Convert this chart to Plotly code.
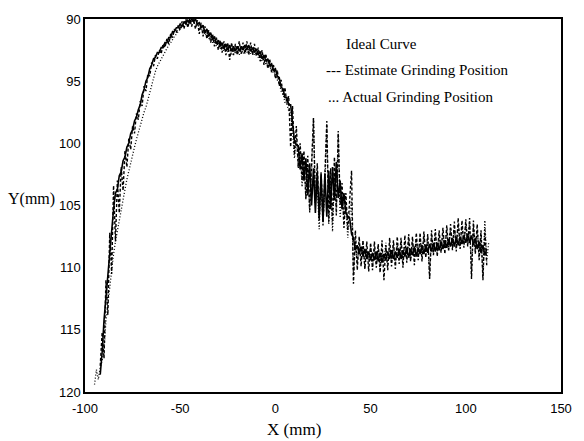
import plotly.graph_objects as go

# X sampling positions (mm)
X_MM = [
    -95, -94, -93, -92, -91, -90, -89, -88, -87, -86,
    -85, -84, -83, -82, -81, -80, -79, -78, -77, -76,
    -75, -74, -73, -72, -71, -70, -69, -68, -67, -66,
    -65, -64, -63, -62, -61, -60, -59, -58, -57, -56,
    -55, -54, -53, -52, -51, -50, -49, -48, -47, -46,
    -45, -44, -43, -42, -41, -40, -39, -38, -37, -36,
    -35, -34, -33, -32, -31, -30, -29, -28, -27, -26,
    -25, -24, -23, -22, -21, -20, -19, -18, -17, -16,
    -15, -14, -13, -12, -11, -10, -9, -8, -7, -6,
    -5, -4, -3, -2, -1, 0, 1, 2, 3, 4,
    5, 6, 7, 8, 9, 10, 11, 12, 13, 14,
    15, 16, 17, 18, 19, 20, 21, 22, 23, 24,
    25, 26, 27, 28, 29, 30, 31, 32, 33, 34,
    35, 36, 37, 38, 39, 40, 41, 42, 43, 44,
    45, 46, 47, 48, 49, 50, 51, 52, 53, 54,
    55, 56, 57, 58, 59, 60, 61, 62, 63, 64,
    65, 66, 67, 68, 69, 70, 71, 72, 73, 74,
    75, 76, 77, 78, 79, 80, 81, 82, 83, 84,
    85, 86, 87, 88, 89, 90, 91, 92, 93, 94,
    95, 96, 97, 98, 99, 100, 101, 102, 103, 104,
    105, 106, 107, 108, 109, 110, 111, 112,
]

# Ideal curve (x = -92 .. 111)
IDEAL_Y = [None, None, None] + [
    118.6, 116.8, 114.2, 112.4, 110.1, 108.6, 106.4, 105.3, 104.0, 103.7,
    102.6, 102.3, 101.4, 101.1, 100.3, 100.0, 99.2, 98.9, 98.2, 97.9,
    97.3, 96.9, 96.1, 95.7, 95.0, 94.7, 94.0, 93.7, 93.2, 93.1,
    92.7, 92.7, 92.3, 92.3, 91.9, 91.9, 91.5, 91.5, 91.0, 91.0,
    90.7, 90.7, 90.4, 90.6, 90.2, 90.4, 90.1, 90.3, 90.0, 90.2,
    90.0, 90.4, 90.3, 90.7, 90.5, 91.1, 90.8, 91.4, 91.1, 91.7,
    91.4, 92.0, 91.7, 92.2, 91.9, 92.4, 92.0, 92.5, 92.1, 92.6,
    92.2, 92.6, 92.2, 92.6, 92.2, 92.5, 92.1, 92.5, 92.1, 92.6,
    92.3, 92.7, 92.4, 92.9, 92.6, 93.2, 92.9, 93.4, 93.2, 93.7,
    93.6, 94.1, 94.0, 94.6, 94.7, 95.5, 95.6, 96.3, 96.3, 96.9,
    96.9, 98.4, 99.8, 100.1, 100.2, 102.1, 100.8, 103.0, 101.2, 104.2,
    101.6, 105.0, 102.0, 105.6, 102.3, 106.0, 102.5, 106.3, 102.4, 105.9,
    102.2, 105.3, 101.9, 104.6, 101.5, 104.4, 103.0, 105.3, 104.0, 105.6,
    105.9, 106.0, 107.3, 107.6, 108.6, 108.2, 108.9, 108.3, 109.1, 108.5,
    109.3, 108.7, 109.4, 108.8, 109.4, 108.7, 109.5, 108.8, 109.6, 108.9,
    109.4, 108.7, 109.3, 108.6, 109.3, 108.7, 109.2, 108.5, 109.3, 108.6,
    109.1, 108.4, 109.2, 108.5, 109.0, 108.3, 109.1, 108.4, 108.9, 108.2,
    108.9, 108.2, 108.8, 108.1, 108.7, 108.0, 108.7, 108.0, 108.6, 107.9,
    108.5, 107.8, 108.4, 107.7, 108.3, 107.6, 108.3, 107.5, 108.2, 107.5,
    108.1, 107.4, 108.0, 107.3, 108.0, 107.4, 108.2, 107.6, 108.5, 107.9,
    108.8, 108.2, 109.0, 108.5,
] + [None]

# Estimate grinding position (x = -92 .. 111)
ESTIMATE_Y = [None, None, None] + [
    117.9, 115.2, 117.3, 111.0, 113.8, 107.2, 110.5, 103.4, 107.9, 103.0,
    105.6, 101.9, 103.8, 100.6, 101.9, 99.6, 100.5, 98.6, 99.2, 97.6,
    98.1, 96.6, 97.0, 95.4, 95.8, 94.4, 94.6, 93.5, 93.8, 92.9,
    93.2, 92.5, 92.8, 92.0, 92.3, 91.6, 92.0, 91.2, 91.5, 90.8,
    91.1, 90.5, 90.9, 90.2, 90.8, 90.0, 90.7, 90.0, 90.6, 90.0,
    90.8, 90.1, 91.2, 90.3, 91.4, 90.6, 91.6, 90.9, 91.9, 91.2,
    92.2, 91.5, 92.5, 91.7, 92.7, 91.8, 92.9, 91.9, 93.3, 91.9,
    92.9, 92.0, 92.9, 91.8, 92.8, 91.9, 92.8, 91.8, 92.9, 91.9,
    92.9, 92.0, 93.0, 92.3, 93.4, 92.5, 93.7, 92.8, 94.0, 93.2,
    94.3, 93.7, 94.8, 94.1, 95.4, 94.9, 96.1, 95.5, 96.8, 96.2,
    100.3, 97.0, 100.9, 98.6, 101.9, 100.0, 103.0, 100.6, 104.5, 101.0,
    105.4, 101.2, 98.0, 104.8, 101.6, 106.2, 102.3, 106.6, 101.9, 98.2,
    106.3, 102.0, 106.5, 101.1, 105.8, 99.0, 104.9, 103.2, 106.8, 104.0,
    107.0, 104.6, 102.2, 111.3, 107.0, 110.2, 107.5, 109.9, 107.8, 110.1,
    107.9, 110.3, 108.0, 110.2, 107.9, 110.0, 108.1, 110.4, 107.8, 111.0,
    108.2, 110.2, 107.6, 109.9, 107.8, 110.1, 107.5, 109.7, 107.6, 110.0,
    107.4, 109.6, 107.3, 109.5, 107.5, 109.8, 107.2, 109.4, 107.2, 109.5,
    107.1, 109.2, 107.3, 110.9, 107.0, 109.0, 106.9, 109.1, 107.0, 108.8,
    106.8, 108.9, 106.6, 108.7, 106.5, 108.6, 106.3, 108.7, 106.0, 108.5,
    106.2, 108.4, 106.1, 108.3, 106.0, 110.9, 106.2, 108.9, 106.5, 109.4,
    107.0, 111.0, 106.9, 109.8,
] + [None]

# Actual grinding position (x = -95 .. 112)
ACTUAL_Y = [
    119.4, 118.2, 119.0, 118.0, 117.5, 116.6, 114.3, 112.9, 111.4, 110.1,
    108.9, 107.9, 107.0, 106.1, 105.3, 104.4, 103.7, 102.9, 102.2, 101.5,
    100.9, 100.3, 99.7, 99.1, 98.5, 98.0, 97.5, 97.1, 96.5, 95.8,
    95.2, 94.7, 94.2, 93.8, 93.5, 93.2, 92.9, 92.7, 92.4, 92.1,
    91.9, 91.6, 91.4, 91.2, 91.0, 90.8, 90.6, 90.5, 90.4, 90.3,
    90.3, 90.2, 90.3, 90.3, 90.5, 90.6, 90.9, 90.8, 91.3, 91.1,
    91.6, 91.4, 91.9, 91.7, 92.2, 91.9, 92.4, 92.1, 92.6, 92.2,
    92.7, 92.3, 92.9, 92.4, 92.8, 92.5, 92.9, 92.4, 92.8, 92.4,
    92.7, 92.4, 92.8, 92.5, 92.9, 92.7, 93.1, 92.9, 93.4, 93.2,
    93.7, 93.5, 94.0, 93.9, 94.4, 94.3, 94.9, 95.1, 95.8, 96.0,
    96.7, 96.8, 97.4, 97.6, 98.9, 101.2, 99.5, 102.0, 100.6, 103.5,
    101.0, 104.4, 101.8, 105.6, 102.3, 97.9, 104.8, 103.0, 106.9, 102.6,
    106.2, 103.4, 98.5, 106.5, 103.0, 107.1, 102.4, 105.2, 99.2, 106.0,
    104.1, 106.1, 105.0, 107.6, 105.8, 104.5, 110.6, 108.0, 109.6, 108.3,
    109.4, 108.0, 110.0, 108.6, 109.5, 108.2, 110.0, 108.5, 109.7, 108.3,
    110.2, 108.6, 109.6, 108.0, 109.8, 108.4, 109.5, 108.1, 109.7, 108.2,
    109.4, 107.9, 109.6, 108.0, 109.3, 107.8, 109.4, 108.0, 109.1, 107.7,
    109.2, 107.6, 109.0, 107.5, 108.9, 107.6, 110.8, 107.4, 108.8, 107.3,
    108.7, 107.4, 108.6, 107.2, 108.5, 107.0, 108.4, 106.9, 108.3, 106.8,
    108.2, 106.6, 108.3, 106.7, 108.0, 106.5, 107.9, 106.4, 110.5, 106.7,
    108.6, 107.0, 109.0, 107.3, 110.7, 106.2, 109.5, 108.0,
]

X_TICKS = [-100, -50, 0, 50, 100, 150]
X_TICK_TEXT = ["-100", "-50", "0", "50", "100", "150"]
Y_TICKS = [90, 95, 100, 105, 110, 115, 120]
LEGEND_TEXT = ["Ideal Curve", "--- Estimate Grinding Position", "... Actual Grinding Position"]

for arr in (IDEAL_Y, ESTIMATE_Y, ACTUAL_Y):
    assert len(arr) == len(X_MM), len(arr)

fig = go.Figure()
fig.add_trace(go.Scatter(x=X_MM, y=ACTUAL_Y, mode="lines", name=LEGEND_TEXT[2],
                         line=dict(color="black", width=1.3, dash="1px,2px")))
fig.add_trace(go.Scatter(x=X_MM, y=ESTIMATE_Y, mode="lines", name=LEGEND_TEXT[1],
                         line=dict(color="black", width=1.4, dash="3px,2px")))
fig.add_trace(go.Scatter(x=X_MM, y=IDEAL_Y, mode="lines", name=LEGEND_TEXT[0],
                         line=dict(color="black", width=1.6)))

axis_common = dict(showgrid=False, zeroline=False, showline=True, linecolor="black",
                   linewidth=1.5, mirror=True, ticks="",
                   tickfont=dict(family="Liberation Sans, Arial", size=13, color="black"))

fig.update_xaxes(range=[-100, 150], tickvals=X_TICKS, ticktext=X_TICK_TEXT,
                 ticklabelstandoff=4, **axis_common)
fig.update_yaxes(range=[120, 90], tickvals=Y_TICKS, ticklabelstandoff=0, **axis_common)

serif = dict(family="Liberation Serif, Times New Roman", color="black")
annots = [
    dict(x=348, y=38, text=LEGEND_TEXT[0], xanchor="left", font=dict(size=15, **serif)),
    dict(x=328, y=65, text=LEGEND_TEXT[1], xanchor="left", font=dict(size=15, **serif)),
    dict(x=330, y=92, text=LEGEND_TEXT[2], xanchor="left", font=dict(size=15, **serif)),
    dict(x=31, y=196, text="Y(mm)", xanchor="center", font=dict(size=16, **serif)),
    dict(x=298, y=430, text="X (mm)", xanchor="center", font=dict(size=17, **serif)),
]
W, H = 584, 441
pl, pr, pt, pb = 85, 569, 13, 392
for a in annots:
    fig.add_annotation(x=(a["x"] - pl) / (pr - pl), y=(pb - a["y"]) / (pb - pt),
                       xref="paper", yref="paper", text=a["text"], showarrow=False,
                       xanchor=a["xanchor"], yanchor="middle", font=a["font"])

fig.update_layout(
    width=W, height=H,
    margin=dict(l=pl, r=W - pr, t=pt, b=H - pb),
    paper_bgcolor="white", plot_bgcolor="white",
    showlegend=False,
)

fig.write_html("out.html", config={"displayModeBar": False},
               post_script="document.body.style.margin='0';document.body.style.padding='0';")
